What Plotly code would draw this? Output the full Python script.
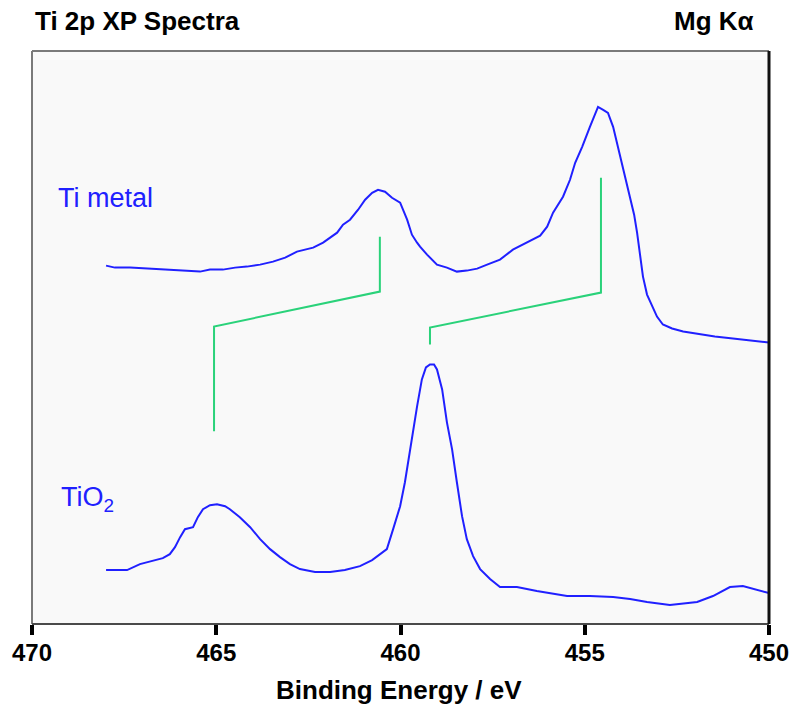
import plotly.graph_objects as go

# Binding energy (eV) and intensity (arb. units)
ti_metal_be = [467.99, 467.75, 467.34, 466.80, 466.26, 465.71, 465.44, 465.17, 464.82, 464.49,
               464.17, 463.81, 463.46, 463.13, 462.81, 462.37, 462.10, 461.72, 461.56, 461.37,
               461.15, 460.96, 460.77, 460.61, 460.42, 460.23, 460.01, 459.82, 459.69, 459.55,
               459.47, 459.28, 459.01, 458.74, 458.47, 458.20, 457.92, 457.65, 457.30, 456.95,
               456.57, 456.21, 456.02, 455.86, 455.59, 455.40, 455.26, 455.07, 454.86, 454.64,
               454.50, 454.37, 454.23, 454.10, 453.96, 453.85, 453.77, 453.66, 453.58, 453.50,
               453.42, 453.31, 453.17, 453.04, 452.88, 452.63, 452.33, 451.87, 451.47, 450.98,
               450.52, 450.05, 450.00]
ti_metal_int = [359, 357, 357, 356, 355, 354, 353, 355, 355, 357,
                358, 360, 363, 367, 373, 377, 382, 392, 400, 405,
                415, 425, 432, 435, 433, 427, 422, 405, 390, 382,
                378, 370, 360, 357, 353, 354, 356, 360, 365, 375,
                382, 389, 398, 412, 428, 445, 462, 478, 498, 518,
                515, 512, 498, 478, 455, 440, 428, 410, 392, 370,
                348, 330, 318, 308, 300, 296, 293, 290, 288, 286,
                284, 282, 282]

tio2_be = [467.99, 467.42, 467.07, 466.66, 466.45, 466.26, 466.12, 465.98, 465.85, 465.63,
           465.50, 465.36, 465.17, 464.98, 464.76, 464.63, 464.36, 464.08, 463.81, 463.54,
           463.27, 463.00, 462.73, 462.32, 461.91, 461.51, 461.10, 460.77, 460.56, 460.37,
           460.20, 460.01, 459.88, 459.74, 459.66, 459.55, 459.42, 459.31, 459.20, 459.09,
           459.01, 458.87, 458.74, 458.60, 458.47, 458.33, 458.20, 458.03, 457.84, 457.57,
           457.30, 456.84, 456.30, 455.48, 454.86, 454.23, 453.77, 453.31, 452.69, 451.95,
           451.52, 451.06, 450.71, 450.43, 450.05, 450.00]
tio2_int = [54, 54, 60, 64, 66, 70, 77, 87, 95, 97,
            107, 115, 119, 120, 118, 115, 107, 97, 85, 75,
            67, 60, 55, 52, 52, 54, 58, 64, 70, 75,
            95, 118, 142, 175, 195, 218, 245, 257, 260, 260,
            255, 235, 202, 175, 142, 108, 85, 68, 55, 45,
            37, 37, 33, 28, 28, 27, 25, 22, 19, 22,
            28, 37, 38, 35, 31, 31]

# Peak-shift guide lines (metal -> oxide)
shift_left_be = [465.06, 465.06, 460.56, 460.56]
shift_left_int = [193, 298, 333, 388]
shift_right_be = [459.20, 459.20, 454.56, 454.56]
shift_right_int = [280, 297, 332, 447]

tick_vals = [470, 465, 460, 455, 450]
tick_text = ["470", "465", "460", "455", "450"]

BLUE = "#2020ff"
GREEN = "#2ad27a"

fig = go.Figure()
fig.add_trace(go.Scatter(x=ti_metal_be, y=ti_metal_int, mode="lines",
                         line=dict(color=BLUE, width=2), hoverinfo="skip"))
fig.add_trace(go.Scatter(x=tio2_be, y=tio2_int, mode="lines",
                         line=dict(color=BLUE, width=2), hoverinfo="skip"))
fig.add_trace(go.Scatter(x=shift_left_be, y=shift_left_int, mode="lines",
                         line=dict(color=GREEN, width=2), hoverinfo="skip"))
fig.add_trace(go.Scatter(x=shift_right_be, y=shift_right_int, mode="lines",
                         line=dict(color=GREEN, width=2), hoverinfo="skip"))

bold = dict(family="Liberation Sans, Arial, sans-serif", size=26, color="black", weight="bold")
tickf = dict(family="Liberation Sans, Arial, sans-serif", size=24, color="black", weight="bold")
lab = dict(family="Liberation Sans, Arial, sans-serif", size=27, color=BLUE)

frame = [
    dict(type="line", xref="paper", yref="paper", x0=0, x1=0, y0=0, y1=1,
         line=dict(color="#7a7a7a", width=2), layer="above"),
    dict(type="line", xref="paper", yref="paper", x0=0, x1=1, y0=1, y1=1,
         line=dict(color="#7a7a7a", width=2), layer="above"),
    dict(type="line", xref="paper", yref="paper", x0=0, x1=1, y0=0, y1=0,
         line=dict(color="#4a4a4a", width=2), layer="above"),
    dict(type="line", xref="paper", yref="paper", x0=1, x1=1, y0=0, y1=1,
         line=dict(color="#111111", width=3), layer="above"),
]

fig.update_layout(
    width=789, height=704,
    margin=dict(l=32, r=20, t=51, b=80, pad=0, autoexpand=False),
    paper_bgcolor="white", plot_bgcolor="#f9f9f9",
    showlegend=False,
    shapes=frame,
    xaxis=dict(range=[470, 450], tickvals=tick_vals, ticktext=tick_text,
               ticks="outside", ticklen=10, tickwidth=4, tickcolor="black",
               tickfont=tickf, ticklabeloverflow="allow", automargin=False,
               ticklabelstandoff=-3,
               showgrid=False, zeroline=False, showline=False),
    yaxis=dict(range=[0, 574], showticklabels=False, ticks="", showgrid=False,
               zeroline=False, showline=False, automargin=False),
    annotations=[
        dict(text="Ti 2p XP Spectra", xref="paper", yref="paper", x=0.0014, y=1.0524,
             xanchor="left", yanchor="middle", showarrow=False, font=bold),
        dict(text="Mg Kα", xref="paper", yref="paper", x=0.982, y=1.0524,
             xanchor="right", yanchor="middle", showarrow=False, font=bold),
        dict(text="Binding Energy / eV", xref="paper", yref="paper", x=0.4985, y=-0.1152,
             xanchor="center", yanchor="middle", showarrow=False, font=bold),
        dict(text="Ti metal", xref="paper", yref="paper", x=0.033, y=0.7426,
             xanchor="left", yanchor="middle", showarrow=False, font=lab),
        dict(text="TiO<sub>2</sub>", xref="paper", yref="paper", x=0.037, y=0.2173,
             xanchor="left", yanchor="middle", showarrow=False, font=lab),
    ],
)

fig.write_html("out.html")
